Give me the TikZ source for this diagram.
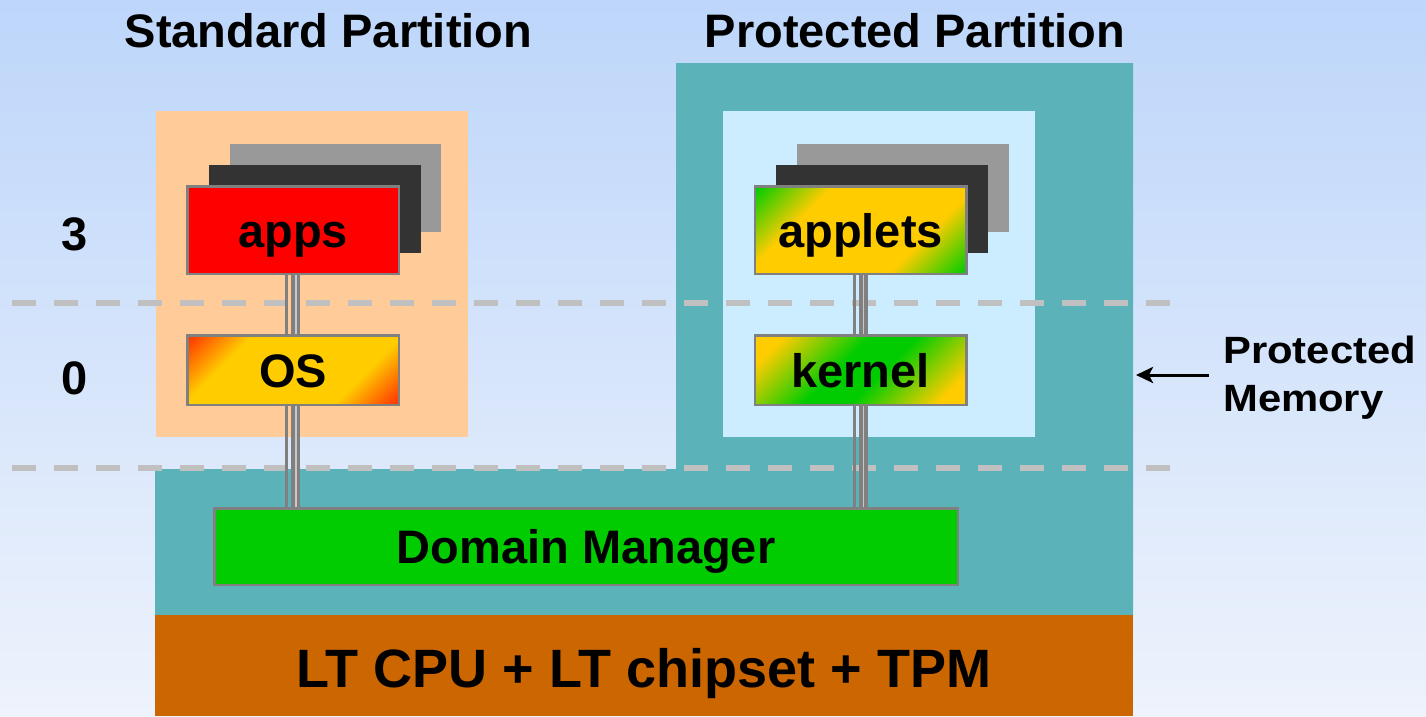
\documentclass[tikz,border=0pt]{standalone}
\usepackage{fontspec}
\usepackage{graphicx}
\setmainfont{Liberation Sans}
\usetikzlibrary{calc,arrows.meta}
\definecolor{bgtop}{HTML}{BDD6FA}
\definecolor{bgbot}{HTML}{EEF3FC}
\definecolor{peach}{HTML}{FFCC99}
\definecolor{tealbox}{HTML}{5CB2B9}
\definecolor{lightbox}{HTML}{CCECFF}
\definecolor{hwbrown}{HTML}{CC6600}
\definecolor{appred}{HTML}{FF0000}
\definecolor{dmgreen}{HTML}{00CC00}
\definecolor{gold}{HTML}{FFCC00}
\definecolor{osred}{HTML}{FF3300}
\definecolor{backgray}{HTML}{999999}
\definecolor{backdark}{HTML}{333333}
\definecolor{bordergray}{HTML}{808080}
\definecolor{dashgray}{HTML}{C0C0C0}
\definecolor{connlight}{HTML}{C8C8C8}
\pgfdeclareverticalshading{osshade}{100bp}{color(0bp)=(osred); color(15bp)=(osred); color(31bp)=(gold); color(69bp)=(gold); color(85bp)=(osred); color(100bp)=(osred)}
\pgfdeclareverticalshading{appletshade}{100bp}{color(0bp)=(dmgreen); color(15bp)=(dmgreen); color(33bp)=(gold); color(67bp)=(gold); color(85bp)=(dmgreen); color(100bp)=(dmgreen)}
\pgfdeclareverticalshading{kernelshade}{100bp}{color(0bp)=(gold); color(22bp)=(gold); color(44bp)=(dmgreen); color(56bp)=(dmgreen); color(78bp)=(gold); color(100bp)=(gold)}
\tikzset{
  bigfont/.style={font=\fontsize{47}{56}\selectfont\bfseries},
  box/.style={draw=bordergray, line width=2.5pt, inner sep=0pt, minimum width=211.5pt,
    text height=34pt, text depth=0pt, bigfont},
  tallbox/.style={box, minimum height=87.5pt},
  shortbox/.style={box, minimum height=69.5pt},
  backbox/.style={inner sep=0pt, minimum width=211.5pt, minimum height=88pt},
  region/.style={inner sep=0pt, minimum width=312pt, minimum height=326pt},
  dashrule/.style={draw=dashgray, line width=6pt, dash pattern=on 24pt off 18pt},
  connouter/.style={draw=bordergray, line width=3pt},
  conninner/.style={draw=bordergray, line width=9pt},
  connstripe/.style={draw=connlight, line width=1.5pt},
  label/.style={bigfont, inner sep=0pt, anchor=base},
  pmfont/.style={font=\fontsize{38}{45}\selectfont\bfseries, inner sep=0pt, anchor=base west},
}
\newcommand{\conn}[2]{%
  \draw[connouter] ($#1+(-6.5,0)$) -- ($#2+(-6.5,0)$);
  \draw[conninner] ($#1+(2.5,0)$) -- ($#2+(2.5,0)$);
  \draw[connstripe] ($#1+(2.8,0)$) -- ($#2+(2.8,0)$);
}
\begin{document}
\begin{tikzpicture}[x=1pt,y=-1pt]
\useasboundingbox (0,0) rectangle (1426,716);
\shade[top color=bgtop, bottom color=bgbot] (0,0) rectangle (1426,716);

% titles
\node[label] (stdtitle) at (328.5,47) {Standard Partition};
\node[label] (prottitle) at (915,47) {Protected Partition};

% regions
\node[region, fill=peach] (stdpart) at (312,274) {};
\fill[tealbox] (155,469) -- (676,469) -- (676,63) -- (1133,63) -- (1133,615) -- (155,615) -- cycle;
\node[region, fill=lightbox] (protpart) at (879,274) {};
\node[fill=hwbrown, inner sep=0pt, minimum width=978pt, minimum height=101pt] (hw) at (644,665.5) {};
\node[inner sep=0pt, font=\fontsize{54}{60}\selectfont\bfseries, anchor=base] (hwtext) at (644,687) {LT CPU + LT chipset + TPM};

% dashed ring lines
\coordinate (d1a) at (12,303);
\coordinate (d1b) at (1170,303);
\coordinate (d2a) at (12,468);
\coordinate (d2b) at (1170,468);
\draw[dashrule] (d1a) -- (d1b);
\draw[dashrule] (d2a) -- (d2b);

% ring numbers
\node[label] (ring3) at (75,250) {3};
\node[label] (ring0) at (75,394) {0};

% stacks
\node[backbox, fill=backgray] (appsb2) at (335.5,188) {};
\node[backbox, fill=backdark] (appsb1) at (315,209) {};
\node[backbox, fill=backgray] (appletsb2) at (903,188) {};
\node[backbox, fill=backdark] (appletsb1) at (882,209) {};

% main nodes
\node[tallbox, fill=appred] (apps) at (293,230) {apps};
\node[shortbox, shade, shading=osshade, shading angle=45] (os) at (293,370) {OS\hspace{14pt}};
\node[tallbox, shade, shading=appletshade, shading angle=45] (applets) at (860.5,230) {applets};
\node[shortbox, shade, shading=kernelshade, shading angle=45] (kernel) at (860.5,370) {kernel\hspace{14pt}};
\node[box, fill=dmgreen, minimum width=743.5pt, minimum height=76.5pt] (dm) at (586,546.5) {Domain Manager};

% connectors
\conn{(apps.south)}{(os.north)}
\conn{(os.south)}{(os.south |- dm.north)}
\conn{(applets.south)}{(kernel.north)}
\conn{(kernel.south)}{(kernel.south |- dm.north)}

% protected memory label
\node[pmfont] (pm1) at (1223,363) {\scalebox{1.1}[1]{Protected}};
\node[pmfont] (pm2) at (1223,411) {\scalebox{1.1}[1]{Memory}};
\coordinate (pmtail) at (1209,375);
\coordinate (pmtip) at (1136,375);
\draw[line width=3pt, -{Stealth[length=17pt, width=16pt, inset=4pt]}] (pmtail) -- (pmtip);
\end{tikzpicture}
\end{document}
